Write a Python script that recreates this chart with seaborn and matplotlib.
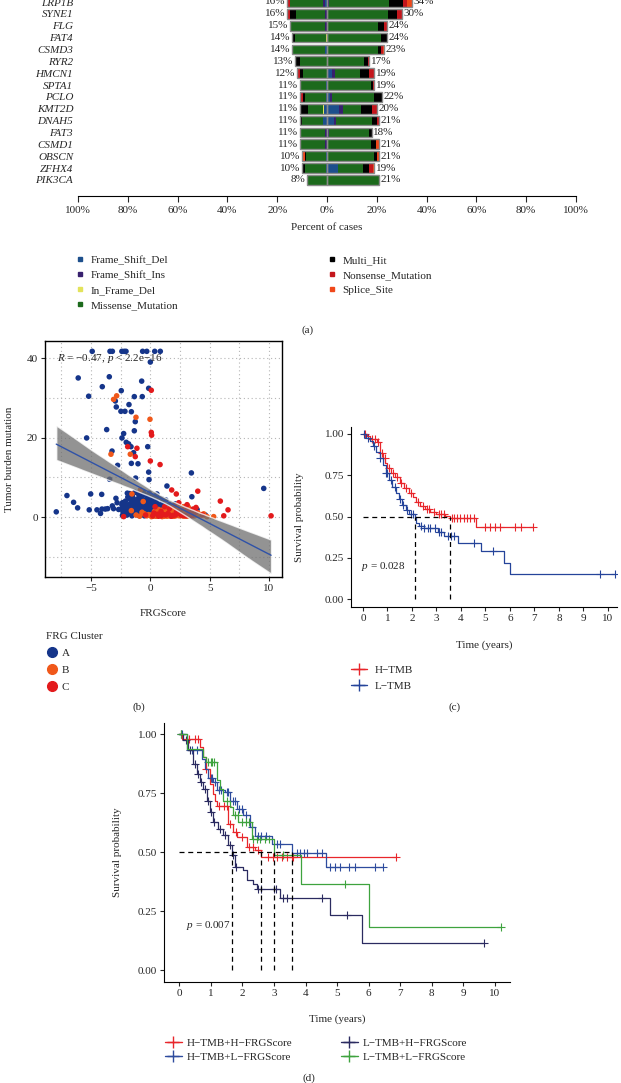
import numpy as np
import pandas as pd
import matplotlib
matplotlib.use("Agg")
import matplotlib.pyplot as plt
from matplotlib.lines import Line2D
import seaborn as sns

# ---------------- data ----------------
# (a) co-oncoplot: percent of cases per gene, left and right group
genes = ["LRP1B", "SYNE1", "FLG", "FAT4", "CSMD3", "RYR2", "HMCN1", "SPTA1",
         "PCLO", "KMT2D", "DNAH5", "FAT3", "CSMD1", "OBSCN", "ZFHX4", "PIK3CA"]
left_pct = [16, 16, 15, 14, 14, 13, 12, 11, 11, 11, 11, 11, 11, 10, 10, 8]
right_pct = [34, 30, 24, 24, 23, 17, 19, 19, 22, 20, 21, 18, 21, 21, 19, 21]

vc_types = ["Frame_Shift_Del", "Frame_Shift_Ins", "In_Frame_Del", "Missense_Mutation",
            "Multi_Hit", "Nonsense_Mutation", "Splice_Site"]
vc_colors = ["#1d4f8c", "#37206e", "#e3e35a", "#1c6a1c", "#000000", "#c4161c", "#f0481a"]

# composition (percent), order = vc_types
left_fsd = [1, 0, 0, 0, 1, 0, 0, 0.5, 0.5, 1.2, 1.5, 0, 0, 0.5, 0.5, 0]
left_fsi = [0.5, 1, 1, 0, 0, 0, 0, 0, 0, 0, 0, 1, 1, 0, 0, 0]
left_ifd = [0, 0, 0, 0.5, 0, 0, 0, 0, 0, 0.5, 0, 0, 0, 0, 0, 0]
left_mis = [13.5, 11.5, 14, 12.5, 12.5, 11, 9.8, 10.2, 8.5, 6, 8.5, 9.5, 9.5, 8, 8.2, 8]
left_multi = [0, 2.5, 0, 1, 0.5, 1.5, 1, 0.3, 0.8, 3.3, 1, 0.5, 0, 0.5, 0.8, 0]
left_non = [0.5, 1, 0, 0, 0, 0.5, 1.2, 0, 1.2, 0, 0, 0, 0.5, 0, 0.5, 0]
left_spl = [0.5, 0, 0, 0, 0, 0, 0, 0, 0, 0, 0, 0, 0, 1, 0, 0]

right_fsd = [0.5, 0, 0, 0, 0.5, 0, 2.2, 0.5, 1.1, 5, 3, 0, 0, 0.5, 4.5, 0]
right_fsi = [0.5, 0.5, 0.5, 0, 0, 0, 1, 0, 1.1, 1.4, 0.5, 1, 0.5, 0, 0, 0]
right_ifd = [0] * 16
right_mis = [24, 24, 20, 21.5, 20, 15, 10.2, 17, 16.6, 7.3, 14.5, 16, 17, 18.5, 10, 21]
right_multi = [5.5, 3.5, 2.5, 2.5, 1, 1.5, 3.6, 1, 3.2, 4.4, 2, 1, 2, 1, 2.5, 0]
right_non = [1.5, 2, 1, 0, 1, 0.5, 2, 0.5, 0, 1.9, 1, 0, 0, 0, 1.5, 0]
right_spl = [2, 0, 0, 0, 0.5, 0, 0, 0, 0, 0, 0, 0, 1.5, 1, 0.5, 0]

# (b) FRGScore vs tumor mutation burden, by FRG cluster
a_score = [-4.9, -3.4, -3.2, -2.4, -2.2, -2.05, -0.65, -0.3, 0.37, 0.84, 0.0,
           -6.08, -3.46, -4.05, -5.2, -0.73, -2.45, -0.14, -1.35, -0.68, -2.95, -2.87, -1.8,
           -2.48, -2.14, -1.6, -1.27, -3.68, -1.35, -2.25, -5.37, -2.39, -2.03, -1.83, -1.63,
           -0.22, -3.23, -1.41, -2.76, -1.6, -1.04, -0.14, 3.46, -3.43, -1.24, -0.11, 9.56,
           1.4, 3.5, -7.03, -5.03, -4.1, -1.94, -6.47, -6.13, -7.93, -5.15, -4.5, -4.2,
           -4.08, -3.8, -3.6, -3.2, -3.1, -2.8, -2.67, -2.9, -1.97, 4.64, 3.94,
           -2.4, -2.3, -2.2, -2.1, -2.0, -1.9, -1.85, -1.8, -1.7, -1.65, -1.6, -1.5, -1.45,
           -1.4, -1.35, -1.3, -1.2, -1.15, -1.1, -1.05, -1.0, -0.95, -0.9, -0.85, -0.8,
           -0.75, -0.7, -0.65, -0.6, -0.55, -0.5, -0.45, -0.4, -0.35, -0.3, -0.25, -0.2,
           -0.15, -0.1, -0.05, 0.0, 0.05, 0.1, 0.15, 0.2, 0.25, 0.3, 0.35, 0.4, 0.45, 0.5,
           0.6, 0.65, 0.7, 0.8, 0.85, 0.9, 1.0, 1.1, 1.2, 1.3, 1.45, 1.6, 1.75, 1.9, 2.1,
           2.3, 2.6, 2.9, 3.2, -1.75, -0.95, -0.25, 0.55, -1.3, -0.5, 0.3, -2.35, -1.55, 0.75,
           -2.45, -2.35, -2.25, -2.15, -2.05, -1.95, -1.88, -1.78, -1.72, -1.62, -1.58, -1.52,
           -1.42, -1.38, -1.28, -1.22, -1.18, -1.08, -1.02, -0.98, -0.92, -0.88, -0.82, -0.78,
           -0.72, -0.68, -0.62, -0.58, -0.52, -0.48, -0.42, -0.38, -0.32, -0.28, -0.22, -0.18,
           -0.12, -0.08, -0.02, 0.02, 0.08, 0.12, 0.18, 0.22, 0.28, 0.32, 0.38, 0.42, 0.48,
           0.52, 0.58, 0.62, 0.68, 0.72, 0.78, 0.88, 0.95, 1.05, 1.15, 1.25, 1.35, 1.5, 1.65,
           1.85, 2.0, 2.2, 2.45, 2.7, 3.0, 3.3, -1.9, -1.45, -0.65, 0.15, 0.95, -2.2, -1.0,
           0.45, 1.05, 1.55]
a_tmb = [41.7, 41.7, 41.7, 41.7, 41.7, 41.7, 41.7, 41.7, 41.7, 41.7, 39.0,
         35.0, 35.3, 32.8, 30.4, 34.2, 31.8, 32.4, 30.3, 30.3, 29.2, 27.7, 28.3,
         26.6, 26.6, 26.5, 24.0, 22.0, 21.7, 21.0, 19.9, 19.9, 18.8, 18.4, 17.7,
         17.7, 16.6, 16.2, 13.0, 13.5, 13.4, 11.3, 11.1, 9.5, 9.8, 9.4, 7.2,
         7.8, 5.1, 5.4, 5.8, 5.7, 6.0, 3.7, 2.3, 1.3, 1.8, 1.8, 0.9,
         2.0, 2.0, 2.1, 2.8, 2.1, 3.6, 1.9, 4.7, 0.5, 0.5, 1.9,
         3.1, 1.2, 2.4, 4.0, 1.6, 2.9, 0.9, 4.6, 2.2, 3.4, 1.4, 5.2, 2.7,
         0.8, 3.8, 1.9, 2.5, 4.4, 1.1, 3.1, 5.8, 2.0, 0.6, 3.6, 1.5,
         4.9, 2.8, 1.0, 6.3, 3.3, 2.1, 4.2, 1.3, 5.5, 2.6, 0.9, 3.9,
         1.8, 6.0, 2.9, 1.2, 4.6, 2.3, 3.4, 0.8, 5.1, 1.7, 2.8, 4.0, 1.1, 3.2,
         2.0, 4.8, 1.4, 3.0, 2.2, 0.9, 3.8, 1.6, 2.6, 4.3, 1.9, 3.1, 2.4, 1.3, 3.3,
         2.1, 1.5, 2.6, 1.2, 5.9, 5.0, 4.8, 5.8, 6.2, 0.3, 0.4, 0.4, 0.3, 0.5,
         2.0, 3.6, 0.8, 1.7, 3.0, 2.1, 1.1, 3.2, 1.5, 2.6, 0.7, 3.9,
         1.7, 2.3, 1.0, 3.3, 2.0, 1.3, 2.5, 4.2, 1.2, 2.9, 0.9, 2.2,
         3.7, 1.6, 2.5, 0.7, 3.5, 1.4, 2.8, 0.9, 1.9, 3.1, 1.2, 2.4,
         0.6, 1.6, 3.6, 2.1, 0.9, 1.5, 2.7, 1.3, 3.7, 2.0, 0.7, 1.6, 2.5,
         1.0, 3.4, 1.5, 2.4, 0.8, 1.7, 2.8, 1.3, 2.1, 0.9, 1.8, 2.9, 1.2, 2.0,
         2.7, 1.6, 2.5, 1.8, 2.2, 1.7, 2.0, 5.0, 4.5, 5.4, 5.3, 4.6, 0.3, 0.4,
         0.3, 0.5, 0.6]
b_score = [-3.1, -2.84, -1.21, -0.03, -3.32, -1.69, -0.84, -1.55, 5.34, 4.78,
           -1.6, -0.9, -0.6, -0.3, 0.1, 0.3, 0.5, 0.7, 0.8, 1.0, 1.1, 1.2, 1.3, 1.4, 1.5,
           1.6, 1.7, 1.8, 1.9, 2.0, 2.1, 2.2, 2.3, 2.4, 2.5, 2.6, 2.7, 2.8, 2.9, 3.0, 3.1,
           3.2, 3.3, 3.4, 3.6, 3.8, 4.0, 4.3, -0.15, 0.6, 2.35, 1.25,
           0.05, 0.25, 0.45, 0.65, 0.85, 0.95, 1.15, 1.35, 1.45, 1.55, 1.65, 1.75, 1.85,
           1.95, 2.05, 2.15, 2.25, 2.45, 2.55, 2.65, 2.75, 2.85, 2.95, 3.05, 3.15, 3.25,
           3.45, 3.55, 3.7, 3.9, 4.1, 4.5, -0.5, -1.2, -0.7, 1.05, 2.2, 0.35, 1.6, 2.8]
b_tmb = [29.6, 30.5, 25.1, 24.6, 15.8, 15.8, 6.8, 5.8, 0.1, 0.1,
         1.6, 0.2, 3.9, 0.3, 0.1, 0.6, 0.2, 1.9, 0.4, 0.1, 0.8, 0.3, 1.3, 0.2, 0.6,
         1.0, 0.3, 0.8, 1.6, 0.2, 0.6, 1.1, 0.4, 2.2, 0.7, 1.2, 0.3, 1.8, 0.6, 1.0, 0.2,
         2.5, 0.5, 1.4, 0.8, 0.4, 1.1, 0.6, 0.6, 1.1, 3.0, 2.0,
         0.5, 0.2, 0.9, 0.3, 1.2, 0.6, 0.2, 0.7, 1.5, 0.3, 0.5, 1.2, 0.2,
         0.9, 1.4, 0.3, 0.8, 0.3, 1.6, 0.6, 0.9, 0.2, 1.3, 0.5, 0.9, 0.3,
         0.6, 1.7, 0.3, 0.9, 0.4, 0.8, 0.8, 0.5, 1.2, 1.8, 1.9, 1.4, 2.3, 2.6]
c_score = [0.08, 0.08, 0.11, -1.91, -1.13, -1.27, 0.0, 0.82, 1.8, 4.0, 2.19, 5.9, -2.25,
           6.55, 6.19, 10.18, 3.85, 0.2, 0.6, 0.9, 1.3, 1.6, 1.9, 2.2, 2.4, 2.6, 2.9, 3.1,
           3.4, 3.6, 0.4, -0.4, 2.0, 3.0,
           0.3, 0.7, 1.1, 1.5, 1.75, 2.1, 2.5, 2.75, 3.2, 3.5, 3.8, 1.2, 2.3, 0.9, 4.4]
c_tmb = [31.9, 21.3, 20.6, 17.7, 17.3, 15.2, 14.1, 13.2, 6.8, 6.5, 5.8, 4.0, 0.1,
         1.8, 0.3, 0.3, 2.4, 0.3, 0.7, 1.4, 0.5, 2.1, 0.4, 1.3, 3.6, 0.5, 2.2, 3.1,
         0.9, 2.0, 2.6, 0.5, 2.8, 0.3,
         1.0, 0.2, 0.6, 0.9, 0.2, 0.5, 1.7, 0.4, 1.5, 0.3, 1.2, 2.6, 0.9, 0.3, 0.5]

# (c) Kaplan-Meier, H-TMB vs L-TMB (step points and censor times, years)
htmb_t = [0, 0.16, 0.30, 0.57, 0.71, 0.82, 0.91, 1.00, 1.14, 1.32, 1.52, 1.69, 1.86, 2.04,
          2.18, 2.34, 2.54, 2.75, 2.99, 3.36, 3.56, 4.61, 6.93]
htmb_s = [1.0, 0.986, 0.970, 0.950, 0.884, 0.854, 0.823, 0.793, 0.766, 0.738, 0.701, 0.675,
          0.644, 0.616, 0.589, 0.563, 0.547, 0.530, 0.518, 0.506, 0.492, 0.435, 0.435]
htmb_cens = [0.10, 0.35, 0.50, 0.62, 0.78, 0.88, 1.08, 1.22, 1.40, 1.55, 1.75, 1.95, 2.25,
             2.45, 2.62, 2.70, 2.90, 3.10, 3.20, 3.30, 3.63, 3.73, 3.84, 3.97, 4.11, 4.24,
             4.38, 4.54, 4.99, 5.20, 5.40, 5.60, 6.22, 6.45, 6.93]
ltmb_t = [0, 0.14, 0.27, 0.41, 0.54, 0.68, 0.82, 0.94, 1.06, 1.20, 1.33, 1.47, 1.61, 1.74,
          1.88, 2.11, 2.18, 2.29, 2.48, 3.05, 3.29, 3.86, 4.82, 5.77, 6.01, 10.27]
ltmb_s = [1.0, 0.976, 0.955, 0.925, 0.888, 0.854, 0.813, 0.762, 0.722, 0.681, 0.644, 0.604,
          0.569, 0.539, 0.518, 0.494, 0.461, 0.441, 0.431, 0.407, 0.382, 0.337, 0.289, 0.217,
          0.150, 0.150]
ltmb_cens = [0.05, 0.20, 0.45, 0.70, 0.95, 1.00, 1.15, 1.30, 1.50, 1.65, 1.80, 1.95, 2.05,
             2.35, 2.50, 2.65, 2.75, 2.95, 3.10, 3.20, 3.45, 3.60, 3.70, 4.55, 5.30, 9.67, 10.27]

# (d) Kaplan-Meier, TMB x FRGScore groups
hh_t = [0, 0.07, 0.65, 0.76, 0.84, 0.97, 1.08, 1.13, 1.20, 1.53, 1.71, 1.84, 2.13, 2.40, 2.59, 6.88]
hh_s = [1.0, 0.980, 0.945, 0.903, 0.853, 0.790, 0.748, 0.719, 0.694, 0.618, 0.585, 0.564,
        0.522, 0.508, 0.480, 0.480]
hh_cens = [0.30, 0.50, 0.60, 0.85, 1.25, 1.40, 1.50, 1.60, 1.80, 2.00, 2.20, 2.35, 2.50,
           2.82, 2.98, 3.08, 3.24, 3.40, 3.56, 3.61, 6.88]
hl_t = [0, 0.23, 0.25, 0.71, 0.81, 0.92, 1.08, 1.18, 1.45, 1.61, 1.82, 2.03, 2.24, 2.40,
        2.93, 3.56, 4.64, 6.46]
hl_s = [1.0, 0.973, 0.934, 0.896, 0.853, 0.815, 0.797, 0.762, 0.755, 0.719, 0.684, 0.656,
        0.606, 0.567, 0.536, 0.496, 0.437, 0.437]
hl_cens = [0.10, 0.40, 0.55, 1.00, 1.05, 1.12, 1.25, 1.32, 1.50, 1.55, 1.70, 1.75, 1.90,
           2.00, 2.10, 2.30, 2.50, 2.60, 2.75, 3.10, 3.20, 3.72, 3.82, 3.95, 4.05, 4.35,
           4.51, 4.77, 4.93, 5.09, 5.39, 5.56, 6.20, 6.46]
lh_t = [0, 0.13, 0.29, 0.44, 0.55, 0.65, 0.76, 0.87, 0.97, 1.08, 1.24, 1.39, 1.55, 1.66,
        1.76, 2.03, 2.13, 2.34, 2.45, 3.19, 4.79, 5.78, 9.65]
lh_s = [1.0, 0.973, 0.931, 0.874, 0.832, 0.797, 0.769, 0.719, 0.670, 0.628, 0.599, 0.571,
        0.529, 0.487, 0.437, 0.423, 0.381, 0.367, 0.346, 0.307, 0.233, 0.116, 0.116]
lh_cens = [0.05, 0.20, 0.35, 0.50, 0.60, 0.70, 0.80, 0.90, 1.00, 1.10, 1.30, 1.45, 1.60,
           1.70, 1.80, 2.50, 2.60, 3.00, 3.05, 3.30, 3.40, 4.51, 5.30, 9.65]
ll_t = [0, 0.25, 0.76, 0.84, 1.18, 1.20, 1.29, 1.39, 1.61, 1.71, 1.87, 2.29, 3.00, 3.85, 6.02, 10.19]
ll_s = [1.0, 0.938, 0.903, 0.882, 0.853, 0.804, 0.769, 0.719, 0.691, 0.656, 0.628, 0.557,
        0.487, 0.367, 0.183, 0.183]
ll_cens = [0.05, 0.90, 1.00, 1.05, 1.10, 1.50, 1.75, 1.85, 2.00, 2.10, 2.20, 2.35, 2.45,
           2.55, 2.70, 2.85, 3.29, 5.26, 10.19]

# ---------------- style ----------------
sns.set_theme(style="white")
plt.rcParams["font.family"] = ["Liberation Serif", "DejaVu Serif"]
plt.rcParams["mathtext.fontset"] = "custom"
plt.rcParams["mathtext.rm"] = "Liberation Serif"
plt.rcParams["mathtext.it"] = "Liberation Serif:italic"
plt.rcParams["axes.unicode_minus"] = True
FS = 8

W, H = 621, 1083
fig = plt.figure(figsize=(W / 100, H / 100), dpi=100)
fig.patch.set_facecolor("white")


def box(l, t, r, b):
    return [l / W, 1 - b / H, (r - l) / W, (b - t) / H]


def ftext(x, y, s, **kw):
    kw.setdefault("fontsize", FS)
    kw.setdefault("ha", "center")
    kw.setdefault("va", "center")
    fig.text(x / W, 1 - y / H, s, **kw)


def step_at(t, s, ct):
    idx = np.searchsorted(t, ct, side="right") - 1
    return np.asarray(s)[idx]


def km_panel(ax, groups, colors):
    medians = []
    for (t, s, cens), col in zip(groups, colors):
        sns.lineplot(x=t, y=s, ax=ax, color=col, lw=0.9, drawstyle="steps-post",
                     estimator=None, errorbar=None)
        sns.scatterplot(x=cens, y=step_at(t, s, cens), ax=ax, color=col, marker="+",
                        s=30, linewidth=0.8)
        t_arr, s_arr = np.asarray(t), np.asarray(s)
        medians.append(t_arr[np.argmax(s_arr <= 0.5)])
    ax.hlines(0.5, 0, max(medians), colors="black", linestyles=(0, (4, 3)), lw=0.9)
    ax.vlines(medians, 0, 0.5, colors="black", linestyles=(0, (4, 3)), lw=0.9)
    ax.set_yticks([0, 0.25, 0.5, 0.75, 1.0], ["0.00", "0.25", "0.50", "0.75", "1.00"])
    ax.set_xticks(range(0, 11))
    for sp in ["top", "right"]:
        ax.spines[sp].set_visible(False)
    for sp in ["left", "bottom"]:
        ax.spines[sp].set_color("black")
        ax.spines[sp].set_linewidth(0.8)
    ax.tick_params(axis="both", direction="out", length=3, width=0.8, labelsize=FS,
                   left=True, bottom=True, pad=2)
    ax.set_xlabel("")
    ax.set_ylabel("")


# ---------------- (a) ----------------
axa = fig.add_axes(box(78, -10, 576, 196))
n = len(genes)
ypos = np.arange(n)
left_parts = [left_fsd, left_fsi, left_ifd, left_mis, left_multi, left_non, left_spl]
right_parts = [right_fsd, right_fsi, right_ifd, right_mis, right_multi, right_non, right_spl]
lcum = np.zeros(n)
rcum = np.zeros(n)
for col, lv, rv in zip(vc_colors, left_parts, right_parts):
    lv = np.array(lv, dtype=float)
    rv = np.array(rv, dtype=float)
    axa.barh(ypos, -lv, left=-lcum, height=0.82, color=col, linewidth=0)
    axa.barh(ypos, rv, left=rcum, height=0.82, color=col, linewidth=0)
    lcum += lv
    rcum += rv
axa.barh(ypos, -np.array(left_pct), height=0.82, fill=False, edgecolor="#8a8a8a", linewidth=1)
axa.barh(ypos, right_pct, height=0.82, fill=False, edgecolor="#8a8a8a", linewidth=1)
for y, lp, rp in zip(ypos, left_pct, right_pct):
    axa.text(-lp - 0.6, y, f"{lp}%", ha="right", va="center", fontsize=FS)
    axa.text(rp + 0.6, y, f"{rp}%", ha="left", va="center", fontsize=FS)
axa.set_xlim(-100, 100)
axa.set_ylim((196 - 2) / 11.86, (-10 - 2) / 11.86)
axa.set_yticks(ypos, genes, fontstyle="italic", fontsize=FS)
xt = np.arange(-100, 101, 20)
axa.set_xticks(xt, [f"{abs(v)}%" for v in xt], fontsize=FS)
axa.tick_params(axis="y", length=0, pad=3.5)
axa.tick_params(axis="x", direction="out", length=4, width=0.8, bottom=True, pad=3)
for sp in ["top", "right", "left"]:
    axa.spines[sp].set_visible(False)
axa.spines["bottom"].set_color("black")
axa.spines["bottom"].set_linewidth(0.8)
ftext(327, 227, "Percent of cases")

handles = [Line2D([0], [0], marker="s", ls="", color=c, markersize=3.5) for c in vc_colors]
leg_kw = dict(loc="upper left", frameon=False, fontsize=FS, handlelength=0.6,
              handletextpad=0.62, labelspacing=0.48, borderpad=0, borderaxespad=0)
fig.legend(handles[:4], vc_types[:4], bbox_to_anchor=(77 / W, 1 - 255 / H), **leg_kw)
fig.legend(handles[4:], vc_types[4:], bbox_to_anchor=(329 / W, 1 - 255 / H), **leg_kw)
ftext(308, 330, "(a)")

# ---------------- (b) ----------------
axb = fig.add_axes(box(45, 341, 282, 577))
df = pd.DataFrame({
    "score": a_score + b_score + c_score,
    "tmb": a_tmb + b_tmb + c_tmb,
    "cluster": ["A"] * len(a_score) + ["B"] * len(b_score) + ["C"] * len(c_score),
})
pal = {"A": "#15358a", "B": "#f0581a", "C": "#e31a1c"}
axb.set_axisbelow(True)
sns.scatterplot(data=df, x="score", y="tmb", hue="cluster", palette=pal, s=16,
                linewidth=0, legend=False, ax=axb)
sns.regplot(data=df, x="score", y="tmb", scatter=False, ax=axb, seed=1,
            line_kws=dict(color="#2f52a8", lw=1))
band = axb.collections[-1]
band.set_facecolor("#6f6f6f")
band.set_alpha(0.75)
axb.set_xlim(-8.88, 11.1)
axb.set_ylim(-15.1, 44.3)
axb.set_xticks([-5, 0, 5, 10], ["−5", "0", "5", "10"])
axb.set_yticks([0, 20, 40])
axb.set_xticks(np.arange(-7.5, 11, 2.5), minor=True)
axb.set_yticks([-10, 10, 30], minor=True)
axb.grid(True, which="both", ls=(0, (1, 2.5)), color="#b5b5b5", lw=0.8)
for sp in axb.spines.values():
    sp.set_color("black")
    sp.set_linewidth(1)
axb.tick_params(axis="both", which="major", direction="out", length=3, width=0.8,
                labelsize=FS, left=True, bottom=True, pad=2)
axb.tick_params(which="minor", length=0)
axb.set_xlabel("")
axb.set_ylabel("")
axb.text(-7.9, 40, "$R$ = −0.47, $p$ < 2.2e−16", fontsize=FS, ha="left", va="center")
ftext(10, 459, "Tumor burden mutation", rotation=90)
ftext(163, 614, "FRGScore")

cl_handles = [Line2D([0], [0], marker="o", ls="", color=pal[k], markersize=7) for k in "ABC"]
fig.legend(cl_handles, ["A", "B", "C"], title="FRG Cluster", loc="upper left",
           bbox_to_anchor=(46 / W, 1 - 632 / H), frameon=False, fontsize=FS,
           title_fontsize=FS, handlelength=1.0, handletextpad=0.4, labelspacing=0.64,
           borderpad=0, borderaxespad=0, alignment="left")
ftext(139, 707, "(b)")

# ---------------- (c) ----------------
axc = fig.add_axes(box(351, 427, 617, 607))
km_panel(axc, [(htmb_t, htmb_s, htmb_cens), (ltmb_t, ltmb_s, ltmb_cens)],
         ["#e8262b", "#25449a"])
axc.set_xlim(-0.49, 10.37)
axc.set_ylim(-0.048, 1.042)
axc.text(-0.1, 0.195, "$p$ = 0.028", fontsize=FS, ha="left", va="center")
ftext(300, 517, "Survival probability", rotation=90)
ftext(484, 645, "Time (years)")
c_handles = [Line2D([0], [0], color=c, marker="+", markersize=8, lw=1)
             for c in ["#e8262b", "#25449a"]]
fig.legend(c_handles, ["H−TMB", "L−TMB"], loc="upper left",
           bbox_to_anchor=(351 / W, 1 - 665 / H), frameon=False, fontsize=FS,
           handlelength=1.45, handletextpad=0.7, labelspacing=0.54, borderpad=0,
           borderaxespad=0)
ftext(455, 707, "(c)")

# ---------------- (d) ----------------
axd = fig.add_axes(box(164, 723, 510, 982))
d_colors = ["#e8262b", "#2e4c9e", "#2b2b60", "#3ea33e"]
km_panel(axd, [(hh_t, hh_s, hh_cens), (hl_t, hl_s, hl_cens),
               (lh_t, lh_s, lh_cens), (ll_t, ll_s, ll_cens)], d_colors)
axd.set_xlim(-0.486, 10.48)
axd.set_ylim(-0.049, 1.047)
axd.text(0.21, 0.19, "$p$ = 0.007", fontsize=FS, ha="left", va="center")
ftext(117, 852, "Survival probability", rotation=90)
ftext(337, 1019, "Time (years)")
d_labels = ["H−TMB+H−FRGScore", "H−TMB+L−FRGScore", "L−TMB+H−FRGScore", "L−TMB+L−FRGScore"]
d_handles = [Line2D([0], [0], color=c, marker="+", markersize=8, lw=1) for c in d_colors]
dleg_kw = dict(loc="upper left", frameon=False, fontsize=FS, handlelength=1.5,
               handletextpad=0.45, labelspacing=0.36, borderpad=0, borderaxespad=0)
fig.legend(d_handles[:2], d_labels[:2], bbox_to_anchor=(165 / W, 1 - 1038 / H), **dleg_kw)
fig.legend(d_handles[2:], d_labels[2:], bbox_to_anchor=(341 / W, 1 - 1038 / H), **dleg_kw)
ftext(309, 1078, "(d)")

fig.savefig("out.png", dpi=100, facecolor="white")
